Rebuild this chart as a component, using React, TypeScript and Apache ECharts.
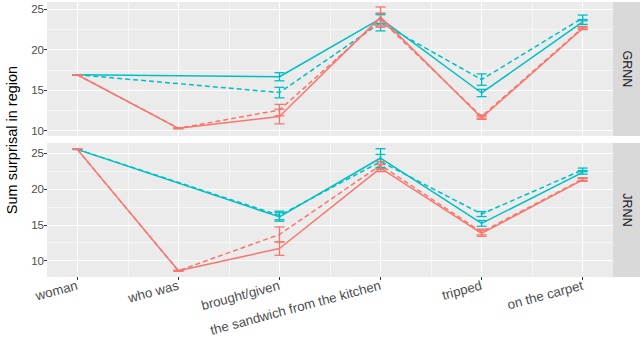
import React, { useEffect, useRef } from "react";
import * as echarts from "echarts";

const categories = ["woman", "who was", "brought/given", "the sandwich from the kitchen", "tripped", "on the carpet"];
const panels = ["GRNN", "JRNN"];

// GRNN panel
const grnnRedSolid = [16.9, 10.3, 11.75, 24.0, 11.6, 22.6];
const grnnRedSolidErr = [0, 0.05, 0.9, 1.25, 0.2, 0.15];
const grnnRedDashed = [16.9, 10.3, 12.55, 23.7, 11.75, 22.7];
const grnnRedDashedErr = [0, 0.05, 0.7, 0.8, 0.2, 0.15];
const grnnCyanSolid = [16.9, null, 16.65, 23.8, 14.65, 23.4];
const grnnCyanSolidErr = [0, null, 0.5, 0.6, 0.45, 0.3];
const grnnCyanDashed = [16.9, null, 14.7, 23.3, 16.3, 23.9];
const grnnCyanDashedErr = [0, null, 0.65, 1.0, 0.7, 0.35];

// JRNN panel
const jrnnRedSolid = [25.5, 8.6, 11.7, 22.9, 13.8, 21.25];
const jrnnRedSolidErr = [0, 0.05, 0.95, 0.5, 0.4, 0.2];
const jrnnRedDashed = [25.5, 8.6, 13.65, 23.3, 14.0, 21.35];
const jrnnRedDashedErr = [0, 0.05, 1.05, 0.5, 0.4, 0.2];
const jrnnCyanSolid = [25.5, null, 16.1, 24.3, 15.2, 22.3];
const jrnnCyanSolidErr = [0, null, 0.6, 1.3, 0.4, 0.25];
const jrnnCyanDashed = [25.5, null, 16.3, 23.8, 16.5, 22.65];
const jrnnCyanDashedErr = [0, null, 0.6, 1.0, 0.35, 0.25];

const yTicks = [10, 15, 20, 25];
const yMinorTicks = [12.5, 17.5, 22.5];
const xTicks = [1, 2, 3, 4, 5, 6];
const xMinorTicks = [1.5, 2.5, 3.5, 4.5, 5.5];

const RED = "#F8766D";
const CYAN = "#00BFC4";
const FONT = "'Liberation Sans', Arial, sans-serif";

const panelDefs = [
  {
    name: panels[0],
    yMin: 9.35,
    yMax: 25.86,
    series: [
      { v: grnnCyanSolid, e: grnnCyanSolidErr, color: CYAN, dashed: false },
      { v: grnnCyanDashed, e: grnnCyanDashedErr, color: CYAN, dashed: true },
      { v: grnnRedSolid, e: grnnRedSolidErr, color: RED, dashed: false },
      { v: grnnRedDashed, e: grnnRedDashedErr, color: RED, dashed: true },
    ],
  },
  {
    name: panels[1],
    yMin: 7.73,
    yMax: 26.39,
    series: [
      { v: jrnnCyanSolid, e: jrnnCyanSolidErr, color: CYAN, dashed: false },
      { v: jrnnCyanDashed, e: jrnnCyanDashedErr, color: CYAN, dashed: true },
      { v: jrnnRedSolid, e: jrnnRedSolidErr, color: RED, dashed: false },
      { v: jrnnRedDashed, e: jrnnRedDashedErr, color: RED, dashed: true },
    ],
  },
];

const GRID_LEFT = 47;
const GRID_W = 566;
const PANEL_TOPS = [2, 143];
const PANEL_H = 134;

export default function App() {
  const ref = useRef<HTMLDivElement>(null);
  useEffect(() => {
    if (!ref.current) return;
    const chart = echarts.init(ref.current, null, { renderer: "svg" });

    const grids: any[] = [];
    const xAxes: any[] = [];
    const yAxes: any[] = [];
    const series: any[] = [];
    const graphics: any[] = [];

    panelDefs.forEach((p, pi) => {
      grids.push({
        left: GRID_LEFT,
        top: PANEL_TOPS[pi],
        width: GRID_W,
        height: PANEL_H,
        show: true,
        backgroundColor: "#EBEBEB",
        borderWidth: 0,
        containLabel: false,
      });
      const isBottom = pi === panelDefs.length - 1;
      xAxes.push({
        type: "value",
        gridIndex: pi,
        min: 0.7,
        max: 6.3,
        axisLine: { show: false },
        axisTick: { show: isBottom, customValues: xTicks, length: 3, lineStyle: { color: "#333333", width: 1 } },
        axisLabel: {
          show: isBottom,
          customValues: xTicks,
          rotate: 15,
          margin: 8,
          color: "#4D4D4D",
          fontSize: 13.3,
          fontFamily: FONT,
          formatter: (v: number) => categories[Math.round(v) - 1] ?? "",
        },
        splitLine: { show: true, lineStyle: { color: "#FFFFFF", width: 1.1 } },
      });
      xAxes.push({
        type: "value",
        gridIndex: pi,
        min: 0.7,
        max: 6.3,
        axisLine: { show: false },
        axisTick: { show: false, customValues: xMinorTicks },
        axisLabel: { show: false, customValues: xMinorTicks },
        splitLine: { show: true, lineStyle: { color: "#FFFFFF", width: 0.55 } },
      });
      yAxes.push({
        type: "value",
        gridIndex: pi,
        min: p.yMin,
        max: p.yMax,
        axisLine: { show: false },
        axisTick: { show: true, customValues: yTicks, length: 3, lineStyle: { color: "#333333", width: 1 } },
        axisLabel: { show: true, customValues: yTicks, margin: 3, color: "#4D4D4D", fontSize: 11.5, fontFamily: FONT },
        splitLine: { show: true, lineStyle: { color: "#FFFFFF", width: 1.1 } },
      });
      yAxes.push({
        type: "value",
        gridIndex: pi,
        min: p.yMin,
        max: p.yMax,
        axisLine: { show: false },
        axisTick: { show: false, customValues: yMinorTicks },
        axisLabel: { show: false, customValues: yMinorTicks },
        splitLine: { show: true, lineStyle: { color: "#FFFFFF", width: 0.55 } },
      });
      const xi = pi * 2;
      const yi = pi * 2;
      p.series.forEach((s) => {
        const pts: any[] = [];
        const errs: any[] = [];
        s.v.forEach((val, i) => {
          if (val === null || val === undefined) return;
          pts.push([i + 1, val]);
          errs.push([i + 1, val, s.e[i] ?? 0]);
        });
        series.push({
          type: "custom",
          xAxisIndex: xi,
          yAxisIndex: yi,
          silent: true,
          z: 3,
          renderItem: (params: any, api: any) => {
            const x = api.value(0);
            const y = api.value(1);
            const e = api.value(2);
            const top = api.coord([x, y + e]);
            const bot = api.coord([x, y - e]);
            const hw = 5;
            const style = { stroke: s.color, lineWidth: 1.3 };
            return {
              type: "group",
              children: [
                { type: "line", shape: { x1: top[0], y1: top[1], x2: bot[0], y2: bot[1] }, style },
                { type: "line", shape: { x1: top[0] - hw, y1: top[1], x2: top[0] + hw, y2: top[1] }, style },
                { type: "line", shape: { x1: bot[0] - hw, y1: bot[1], x2: bot[0] + hw, y2: bot[1] }, style },
              ],
            };
          },
          data: errs,
        });
        series.push({
          type: "line",
          xAxisIndex: xi,
          yAxisIndex: yi,
          data: pts,
          symbol: "none",
          silent: true,
          z: 2,
          lineStyle: { color: s.color, width: 1.5, type: s.dashed ? [5, 3] : "solid" },
        });
      });
      graphics.push({
        type: "rect",
        shape: { x: 613, y: PANEL_TOPS[pi], width: 27, height: PANEL_H },
        style: { fill: "#D9D9D9" },
        silent: true,
      });
      graphics.push({
        type: "text",
        x: 626.5,
        y: PANEL_TOPS[pi] + PANEL_H / 2,
        rotation: -Math.PI / 2,
        style: {
          text: p.name,
          textAlign: "center",
          textVerticalAlign: "middle",
          fontSize: 12.5,
          fontFamily: FONT,
          fill: "#1A1A1A",
        },
        silent: true,
      });
    });

    graphics.push({
      type: "text",
      x: 12,
      y: 140,
      rotation: Math.PI / 2,
      style: {
        text: "Sum surprisal in region",
        textAlign: "center",
        textVerticalAlign: "middle",
        fontSize: 14.5,
        fontFamily: FONT,
        fill: "#000000",
      },
      silent: true,
    });

    chart.setOption({
      animation: false,
      backgroundColor: "#FFFFFF",
      grid: grids,
      xAxis: xAxes,
      yAxis: yAxes,
      series,
      graphic: graphics,
    });
    return () => chart.dispose();
  }, []);
  return <div ref={ref} style={{ position: "fixed", left: 0, top: 0, width: 640, height: 340 }} />;
}
